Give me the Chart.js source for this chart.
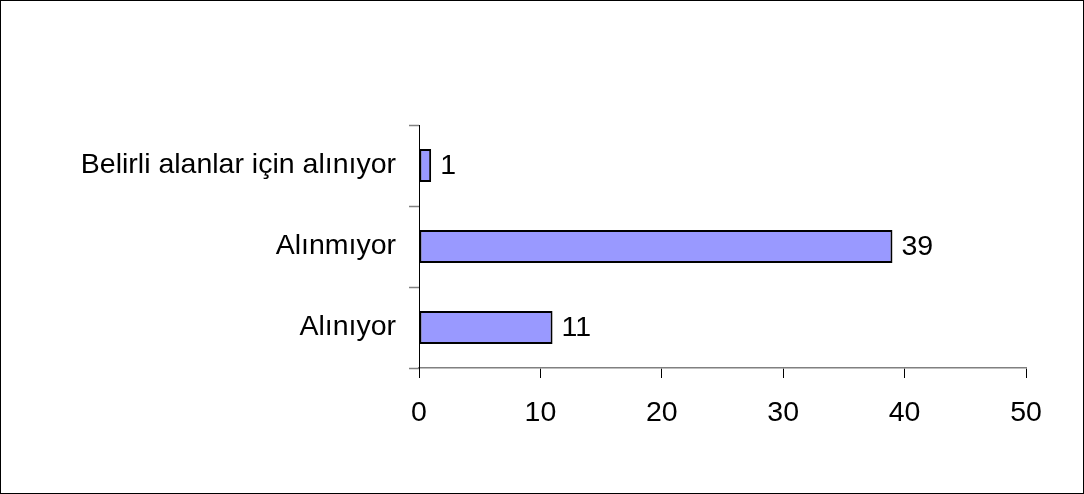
<!DOCTYPE html>
<html>
<head>
<meta charset="utf-8">
<script src="https://cdn.jsdelivr.net/npm/chart.js@4/dist/chart.umd.min.js"></script>
<style>
    body { margin: 0; background: #fff; }
    canvas { display: block; }
</style>
</head>
<body>
<canvas id="chart" width="1084" height="494"></canvas>
<script>
// data
var categories = ['Belirli alanlar için alınıyor', 'Alınmıyor', 'Alınıyor'];
var answerCounts = [1, 39, 11];
var xTicks = [0, 10, 20, 30, 40, 50];

var fontFamily = "'Liberation Sans', Arial, sans-serif";
var fontSize = 28.5;

// draws the number next to each bar
var valueLabels = {
    id: 'valueLabels',
    afterDatasetsDraw: function (chart) {
        var ctx = chart.ctx;
        var meta = chart.getDatasetMeta(0);
        ctx.save();
        ctx.font = fontSize + 'px ' + fontFamily;
        ctx.fillStyle = '#000';
        ctx.textAlign = 'left';
        ctx.textBaseline = 'middle';
        meta.data.forEach(function (bar, i) {
            ctx.fillText(String(answerCounts[i]), bar.x + 9, bar.y + 1);
        });
        ctx.restore();
    }
};

// outer frame round the whole picture
var frame = {
    id: 'frame',
    afterDraw: function (chart) {
        var ctx = chart.ctx;
        ctx.save();
        ctx.strokeStyle = '#000';
        ctx.lineWidth = 1;
        ctx.strokeRect(0.5, 0.5, chart.width - 1, chart.height - 1);
        ctx.restore();
    }
};

new Chart(document.getElementById('chart'), {
    type: 'bar',
    data: {
        labels: categories,
        datasets: [{
            data: answerCounts,
            backgroundColor: '#9999ff',
            borderColor: '#000',
            borderWidth: 2,
            borderSkipped: false,
            barPercentage: 0.41,
            categoryPercentage: 1
        }]
    },
    options: {
        indexAxis: 'y',
        responsive: false,
        animation: false,
        layout: { padding: { top: 125, right: 58, left: 0, bottom: 0 } },
        plugins: {
            legend: { display: false },
            tooltip: { enabled: false }
        },
        scales: {
            x: {
                min: 0,
                max: 50,
                afterBuildTicks: function (scale) {
                    scale.ticks = xTicks.map(function (v) { return { value: v }; });
                },
                afterFit: function (scale) { scale.height = 126; },
                grid: { drawOnChartArea: false, tickLength: 10, tickColor: '#000', tickWidth: 1 },
                border: { color: '#808080', width: 1.5 },
                ticks: { color: '#000', padding: 18, font: { size: fontSize, family: fontFamily } }
            },
            y: {
                afterFit: function (scale) { scale.width = 419; },
                grid: { offset: true, drawOnChartArea: false, tickLength: 10, tickColor: '#808080', tickWidth: 1.5 },
                border: { color: '#000', width: 1 },
                ticks: { color: '#000', padding: 13, font: { size: fontSize, family: fontFamily } }
            }
        }
    },
    plugins: [valueLabels, frame]
});
</script>
</body>
</html>
